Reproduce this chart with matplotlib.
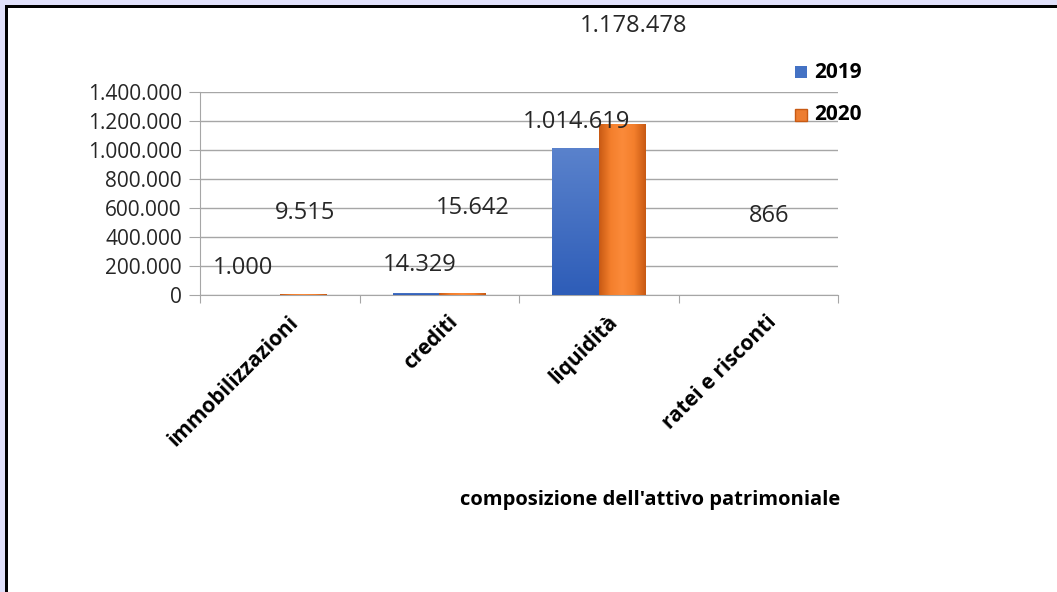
import matplotlib
matplotlib.use("Agg")
import matplotlib.pyplot as plt
import numpy as np
from matplotlib.patches import Rectangle
from matplotlib.colors import LinearSegmentedColormap

categories = ["immobilizzazioni", "crediti", "liquidità", "ratei e risconti"]
years = ["2019", "2020"]
values_2019 = [1000, 14329, 1014619, 0]
values_2020 = [9515, 15642, 1178478, 866]
labels_2019 = ["1.000", "14.329", "1.014.619", None]
labels_2020 = ["9.515", "15.642", "1.178.478", "866"]
y_ticks = [0, 200000, 400000, 600000, 800000, 1000000, 1200000, 1400000]
x_title = "composizione dell'attivo patrimoniale"

# label positions (data coords) as placed manually in the original chart
pos_2019 = [(-0.23, 186000), (0.88, 207000), (1.86, 1193000), None]
pos_2020 = [(0.16, 565000), (1.21, 600000), (2.22, 1855000), (3.07, 545000)]

FONT = "Open Sans"
fig = plt.figure(figsize=(10.57, 5.92), dpi=100)
fig.patch.set_facecolor("white")
# frame (lavender strip + black line at top/left)
fig.add_artist(Rectangle((0, 0), 1, 1, transform=fig.transFigure, facecolor="#e0e0fa", edgecolor="none", zorder=-10))
fig.add_artist(Rectangle((5/1057, -0.1), 1.2, (592-5)/592 + 0.1, transform=fig.transFigure, facecolor="black", edgecolor="none", zorder=-9))
fig.add_artist(Rectangle((8/1057, -0.1), 1.2, (592-8)/592 + 0.1, transform=fig.transFigure, facecolor="white", edgecolor="none", zorder=-8))

ax = fig.add_axes([200/1057, 1 - 295/592, (838-200)/1057, (295-92)/592])
ax.set_facecolor("none")
x = np.arange(len(categories))
w = 0.29
b1 = ax.bar(x - w/2, values_2019, w, color="#4472c4", zorder=3)
b2 = ax.bar(x + w/2, values_2020, w, color="#ed7d31", zorder=3)

blue_cmap = LinearSegmentedColormap.from_list("b", ["#2e5db8", "#5a82cc"])
orange_cmap = LinearSegmentedColormap.from_list("o", ["#c85a14", "#f47f2c", "#fb8a3a", "#f47f2c", "#c85a14"])
for p in b1:
    if p.get_height() <= 0:
        continue
    xx, yy, ww, hh = p.get_x(), p.get_y(), p.get_width(), p.get_height()
    grad = np.linspace(0, 1, 100).reshape(-1, 1)
    im = ax.imshow(grad, extent=[xx, xx+ww, yy, yy+hh], origin="lower", cmap=blue_cmap, aspect="auto", zorder=3.1)
    im.set_clip_path(p)
for p in b2:
    if p.get_height() <= 0:
        continue
    xx, yy, ww, hh = p.get_x(), p.get_y(), p.get_width(), p.get_height()
    grad = np.linspace(0, 1, 100).reshape(1, -1)
    im = ax.imshow(grad, extent=[xx, xx+ww, yy, yy+hh], origin="lower", cmap=orange_cmap, aspect="auto", zorder=3.1)
    im.set_clip_path(p)

ax.set_xlim(-0.5, len(categories) - 0.5)
ax.set_ylim(0, 1400000)
ax.set_yticks(y_ticks)
ax.set_yticklabels([f"{v:,}".replace(",", ".") for v in y_ticks], fontsize=15, family=FONT, color="#262626")
ax.yaxis.grid(True, color="#a6a6a6", linewidth=1, zorder=0)
ax.set_axisbelow(True)
for s in ["top", "right"]:
    ax.spines[s].set_visible(False)
ax.spines["left"].set_color("#a6a6a6")
ax.spines["bottom"].set_color("#a6a6a6")
ax.tick_params(axis="y", length=8, color="#a6a6a6", pad=5)

ax.set_xticks(np.arange(-0.5, len(categories), 1.0))
ax.set_xticklabels([])
ax.tick_params(axis="x", which="major", length=6, color="#a6a6a6")
ax.set_xticks(x + 0.05, minor=True)
ax.set_xticklabels(categories, minor=True, rotation=45, ha="right", va="top", rotation_mode="anchor",
                   fontsize=15, fontweight="bold", family=FONT, color="black")
ax.tick_params(axis="x", which="minor", length=0, pad=12)

for lab, pos in zip(labels_2019, pos_2019):
    if lab:
        ax.text(pos[0], pos[1], lab, ha="center", va="center", fontsize=17, family=FONT, color="#262626", clip_on=False, zorder=5)
for lab, pos in zip(labels_2020, pos_2020):
    if lab:
        ax.text(pos[0], pos[1], lab, ha="center", va="center", fontsize=17, family=FONT, color="#262626", clip_on=False, zorder=5)

fig.text(840/1057, 1 - 500/592, x_title, ha="right", va="center", fontsize=14.5, fontweight="bold", family=FONT, color="black")

# legend
fig.add_artist(Rectangle((795/1057, 1 - 78/592), 12/1057, 12/592, transform=fig.transFigure, facecolor="#4472c4", edgecolor="none"))
fig.add_artist(Rectangle((795/1057, 1 - 121/592), 12/1057, 12/592, transform=fig.transFigure, facecolor="#ed7d31", edgecolor="#c85a14"))
fig.text(814/1057, 1 - 72/592, years[0], ha="left", va="center", fontsize=15, fontweight="bold", family=FONT)
fig.text(814/1057, 1 - 115/592, years[1], ha="left", va="center", fontsize=15, fontweight="bold", family=FONT)

fig.savefig("out.png", dpi=100)
